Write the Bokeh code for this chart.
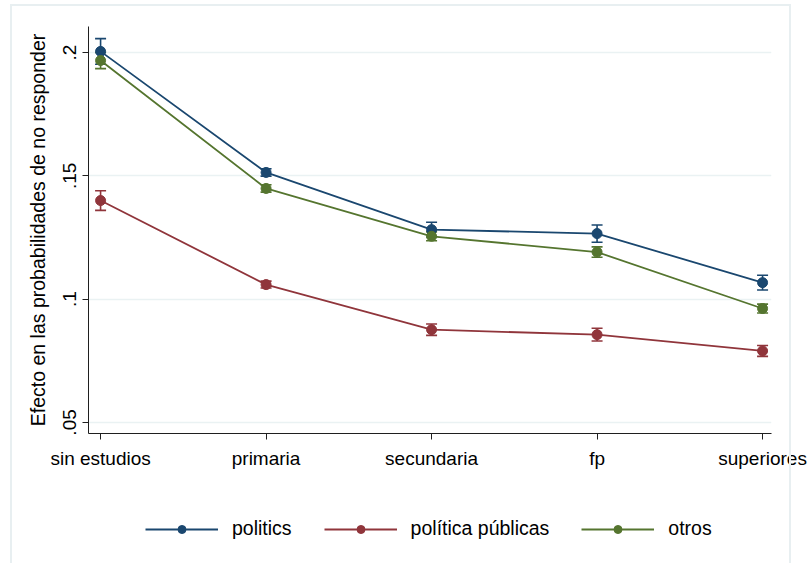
from bokeh.plotting import figure
from bokeh.layouts import column
from bokeh.models import (ColumnDataSource, Range1d, FixedTicker, Whisker, TeeHead,
                          Legend, LegendItem, InlineStyleSheet)
from bokeh.embed import file_html
from bokeh.resources import INLINE

# Education level categories (x axis)
categories = ["sin estudios", "primaria", "secundaria", "fp", "superiores"]

# Estimated effect on the probability of non-response, with CI half-widths
politics = [0.2005, 0.1514, 0.1282, 0.1266, 0.1067]
politics_ci = [0.0052, 0.0015, 0.0030, 0.0035, 0.0030]

politica_publicas = [0.1400, 0.1059, 0.0876, 0.0856, 0.0790]
politica_publicas_ci = [0.0040, 0.0014, 0.0023, 0.0026, 0.0022]

otros = [0.1968, 0.1449, 0.1255, 0.1191, 0.0962]
otros_ci = [0.0033, 0.0015, 0.0018, 0.0021, 0.0018]

series_names = ["politics", "política públicas", "otros"]
y_ticks = [0.05, 0.10, 0.15, 0.20]
y_tick_labels = [".05", ".1", ".15", ".2"]

FONT = "Liberation Sans"
colors = ["#1A476F", "#90353B", "#55752F"]
LINE_W = 1.8
MARK_SIZE = 10

p = figure(width=811, height=490, output_backend="svg", toolbar_location=None,
           x_range=Range1d(0.927, 5.054), y_range=Range1d(0.0455, 0.2106),
           min_border_left=88, min_border_right=40, min_border_top=26,
           min_border_bottom=57)
p.outline_line_color = None
p.background_fill_color = "white"
p.border_fill_color = "white"

xs = list(range(1, len(categories) + 1))
for name, vals, ci, col in zip(series_names,
                               [politics, politica_publicas, otros],
                               [politics_ci, politica_publicas_ci, otros_ci],
                               colors):
    src = ColumnDataSource(dict(
        x=xs, y=vals,
        lower=[v - c for v, c in zip(vals, ci)],
        upper=[v + c for v, c in zip(vals, ci)]))
    w = Whisker(base="x", lower="lower", upper="upper", source=src,
                line_color=col, line_width=1.6,
                upper_head=TeeHead(size=11, line_color=col, line_width=1.6),
                lower_head=TeeHead(size=11, line_color=col, line_width=1.6))
    p.add_layout(w)
    p.line("x", "y", source=src, line_color=col, line_width=LINE_W)
    p.scatter("x", "y", source=src, size=MARK_SIZE, fill_color=col, line_color=col)

# Axes and grid
p.xgrid.visible = False
p.ygrid.grid_line_color = "#EAF2F3"
p.ygrid.grid_line_width = 1.5
p.ygrid.ticker = FixedTicker(ticks=y_ticks)

p.xaxis.ticker = FixedTicker(ticks=xs)
p.xaxis.major_label_overrides = {x: c for x, c in zip(xs, categories)}
p.yaxis.ticker = FixedTicker(ticks=y_ticks)
p.yaxis.major_label_overrides = {t: l for t, l in zip(y_ticks, y_tick_labels)}
p.yaxis.major_label_orientation = "vertical"
p.yaxis.axis_label = "Efecto en las probabilidades de no responder"

for ax in (p.xaxis[0], p.yaxis[0]):
    ax.axis_line_color = "#1f1f1f"
    ax.major_tick_line_color = "#1f1f1f"
    ax.minor_tick_line_color = None
    ax.major_tick_out = 6
    ax.major_tick_in = 0
    ax.major_label_text_font = FONT
    ax.major_label_text_font_size = "19px"
    ax.major_label_text_color = "black"
    ax.axis_label_text_font = FONT
    ax.axis_label_text_font_size = "19.5px"
    ax.axis_label_text_font_style = "normal"
    ax.axis_label_text_color = "black"

p.xaxis.major_label_standoff = 8
p.yaxis.major_label_standoff = 6
p.yaxis.axis_label_standoff = 12

# Legend strip below the chart: line-with-marker keys for each series
# (the key renderers hold a single NaN point, so only their legend swatch shows)
leg = figure(width=811, height=73, output_backend="svg", toolbar_location=None,
             x_axis_type=None, y_axis_type=None, min_border=0,
             x_range=Range1d(0, 1), y_range=Range1d(0, 1))
leg.outline_line_color = None
leg.border_fill_color = "white"
items = []
for name, col in zip(series_names, colors):
    key = ColumnDataSource(dict(x=[float("nan")], y=[float("nan")]))
    kl = leg.line("x", "y", source=key, line_color=col, line_width=LINE_W)
    ks = leg.scatter("x", "y", source=key, size=MARK_SIZE, fill_color=col,
                     line_color=col)
    items.append(LegendItem(label=name, renderers=[kl, ks]))

legend = Legend(items=items, orientation="horizontal", location=(57, 23),
                glyph_width=73, glyph_height=20, label_standoff=14, spacing=32,
                padding=6, margin=0, border_line_color=None,
                background_fill_alpha=0,
                label_text_font=FONT, label_text_font_size="19.5px",
                label_text_color="black")
leg.add_layout(legend, "center")

page = column(p, leg, spacing=0)
# faint outer frame around the whole graph region
page.stylesheets = [InlineStyleSheet(css="""
:host::after {
  content: "";
  position: absolute;
  left: 10px; top: 4px; width: 781px; height: 600px;
  border: 2px solid #E8EFF1;
  box-sizing: border-box;
  pointer-events: none;
}
""")]

open("out.html", "w").write(file_html(page, INLINE))
